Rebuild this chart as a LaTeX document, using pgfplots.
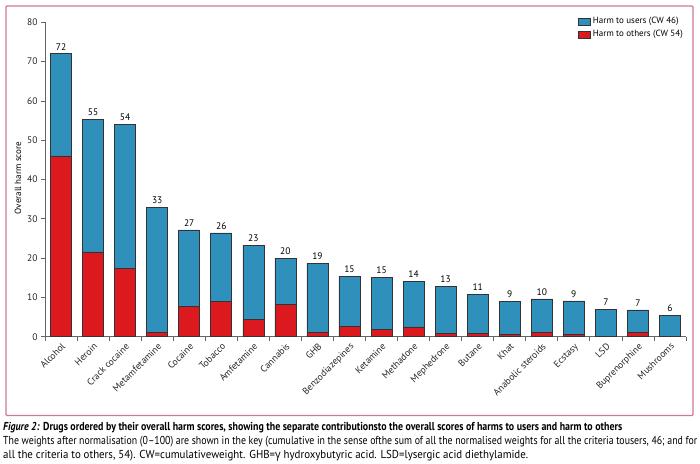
\documentclass[border=0pt]{standalone}
\usepackage{graphicx}
\usepackage{fontspec}
\setmainfont{PT Sans}
\newfontfamily\gfont{Open Sans}
\usepackage{pgfplots}
\usepackage{pgfplotstable}
\pgfplotsset{compat=1.18}
\definecolor{barblue}{RGB}{47,144,187}
\definecolor{barred}{RGB}{220,25,30}
\definecolor{framepink}{RGB}{205,120,150}
\pgfplotstableread{
i red blue total lab
0 46.0 26.0 72.0 72
1 21.6 33.7 55.3 55
2 17.4 36.7 54.1 54
3 1.1 31.7 32.8 33
4 7.7 19.5 27.2 27
5 9.0 17.4 26.4 26
6 4.4 18.9 23.3 23
7 8.3 11.7 20.0 20
8 1.1 17.6 18.7 19
9 2.7 12.7 15.4 15
10 1.8 13.3 15.1 15
11 2.5 11.5 14.0 14
12 0.8 11.9 12.7 13
13 0.8 9.9 10.7 11
14 0.5 8.4 8.9 9
15 1.1 8.5 9.6 10
16 0.5 8.6 9.1 9
17 0.15 6.85 7.0 7
18 1.1 5.7 6.8 7
19 0.0 5.5 5.5 6
}\drugdata
\begin{document}
\begin{tikzpicture}[x=1pt,y=1pt]
\useasboundingbox (0,0) rectangle (700,463);
\draw[draw=framepink, line width=1.3pt, rounded corners=1pt] (6,457) rectangle (693,47.5);
\begin{axis}[
  at={(45pt,126.3pt)}, anchor=south west,
  scale only axis, width=641pt, height=314.4pt,
  xmin=-0.5, xmax=19.5, ymin=0, ymax=80,
  ybar stacked, bar width=21pt,
  axis x line*=bottom, axis y line*=left,
  axis line style={draw=black!60, line width=0.8pt},
  tick style={draw=black!60, line width=0.8pt},
  tick align=outside,
  major tick length=4pt, minor tick length=4pt,
  ytick={0,10,...,80},
  xtick={0,...,19},
  major x tick style={draw=none},
  minor xtick={-0.5,0.5,...,19.5},
  xticklabels={Alcohol,Heroin,Crack cocaine,Metamfetamine,Cocaine,Tobacco,Amfetamine,Cannabis,GHB,Benzodiazepines,Ketamine,Methadone,Mephedrone,Butane,Khat,Anabolic steroids,Ecstasy,LSD,Buprenorphine,Mushrooms},
  xticklabel style={rotate=45, anchor=north east, inner sep=1pt, font=\fontsize{9.5}{11}\selectfont, text=black!85},
  yticklabel style={font=\fontsize{9.5}{11}\selectfont, text=black!85},
  /pgf/number format/assume math mode=true,
  ylabel={Overall harm score},
  ylabel style={at={(axis description cs:-0.0421,0.505)}, anchor=center, font=\fontsize{9}{10}\selectfont},
  legend style={at={(1,1)}, anchor=north east, yshift=8pt, draw=none, fill=none, font=\fontsize{9}{10}\selectfont, row sep=1pt, inner sep=1pt},
  legend cell align=left,
  reverse legend,
]
\addplot[fill=barred, draw=black!80, line width=0.6pt, legend image code/.code={\draw[fill=barred, draw=black!80, line width=0.6pt] (0pt,-3.5pt) rectangle (12pt,3.5pt);}] table[x=i, y=red]{\drugdata};
\addlegendentry{Harm to others (CW 54)}
\addplot[fill=barblue, draw=black!80, line width=0.6pt, legend image code/.code={\draw[fill=barblue, draw=black!80, line width=0.6pt] (0pt,-3.5pt) rectangle (12pt,3.5pt);}] table[x=i, y=blue]{\drugdata};
\addlegendentry{Harm to users (CW 46)}
\end{axis}
\begin{axis}[
  at={(45pt,126.3pt)}, anchor=south west,
  scale only axis, width=641pt, height=314.4pt,
  xmin=-0.5, xmax=19.5, ymin=0, ymax=80,
  hide axis,
]
\addplot[draw=none, mark=none, nodes near coords, point meta=explicit symbolic,
  every node near coord/.style={font=\fontsize{9.5}{11}\selectfont, text=black, anchor=south, inner sep=2pt, yshift=1.5pt}]
  table[x=i, y=total, meta=lab]{\drugdata};
\end{axis}
\node[anchor=west, inner sep=0pt] at (3,35) {\resizebox{619pt}{\height}{\fontsize{11.5}{13}\selectfont\textbf{\textit{Figure 2:} Drugs ordered by their overall harm scores, showing the separate contributionsto the overall scores of harms to users and harm to others}}};
\node[anchor=west, inner sep=0pt] at (3,21) {\resizebox{694pt}{\height}{\fontsize{11.5}{13}\selectfont The weights after normalisation (0–100) are shown in the key (cumulative in the sense ofthe sum of all the normalised weights for all the criteria tousers, 46; and for}};
\node[anchor=west, inner sep=0pt] at (3,7) {\resizebox{525pt}{\height}{\fontsize{11.5}{13}\selectfont all the criteria to others, 54). CW=cumulativeweight. GHB={\gfont γ} hydroxybutyric acid. LSD=lysergic acid diethylamide.}};
\end{tikzpicture}
\end{document}
